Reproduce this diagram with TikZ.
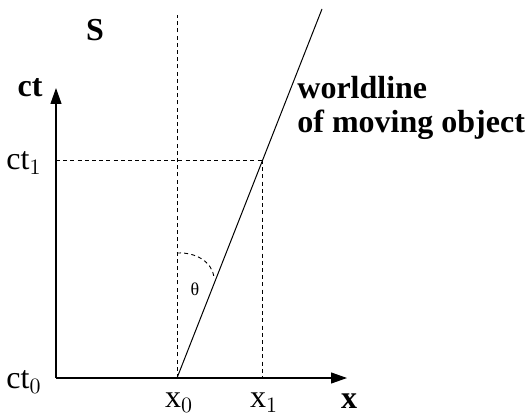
\documentclass[tikz,border=0pt]{standalone}
\usepackage{fontspec}
\setmainfont{Liberation Serif}
\usetikzlibrary{arrows.meta}
\begin{document}
\begin{tikzpicture}[x=0.5pt,y=-0.5pt,
  axis/.style={line width=0.6pt,-{Triangle[length=8pt,width=5.5pt]}},
  guide/.style={line width=0.45pt,dash pattern=on 2pt off 1.6pt},
  lbl/.style={font=\fontsize{16}{18}\selectfont,inner sep=0pt},
  blbl/.style={font=\fontsize{16}{17}\selectfont\bfseries,inner sep=0pt}]
\useasboundingbox (0,0) rectangle (530,417);
% key points
\coordinate (O) at (56,378);
\coordinate (ytip) at (56,88);
\coordinate (xtip) at (347,378);
\coordinate (x0) at (177,378);
\coordinate (x0top) at (177,15);
\coordinate (ct1) at (56,160);
\coordinate (P) at (262,160);
\coordinate (x1) at (262,378);
\coordinate (wtop) at (322,9);
% axes
\draw[axis] (O) -- (ytip);
\draw[axis] (O) -- (xtip);
% dashed guides
\draw[guide] (x0) -- (x0top);
\draw[guide] (ct1) -- (P);
\draw[guide] (P) -- (x1);
% worldline
\draw[line width=0.5pt] (x0) -- (wtop);
% angle arc
\coordinate (a1) at (177,253);
\coordinate (a2) at (214,277);
\draw[guide] (a1) .. controls (196,252) and (212,262) .. (a2);
% labels
\node[blbl] (S) at (95,30) {S};
\node[blbl] (ct) at (30,88) {ct};
\node[lbl] (lct1) at (24,163) {ct$_1$};
\node[lbl] (lct0) at (24,382) {ct$_0$};
\node[lbl] (lx0) at (179,403) {x$_0$};
\node[lbl] (lx1) at (264,403) {x$_1$};
\node[blbl] (lx) at (349,401) {x};
\node[font=\fontsize{9}{10}\selectfont,inner sep=0pt] (th) at (195,289) {θ};
\node[blbl,anchor=north west,align=left] (wl) at (297,76) {worldline\\of moving object};
\end{tikzpicture}
\end{document}
